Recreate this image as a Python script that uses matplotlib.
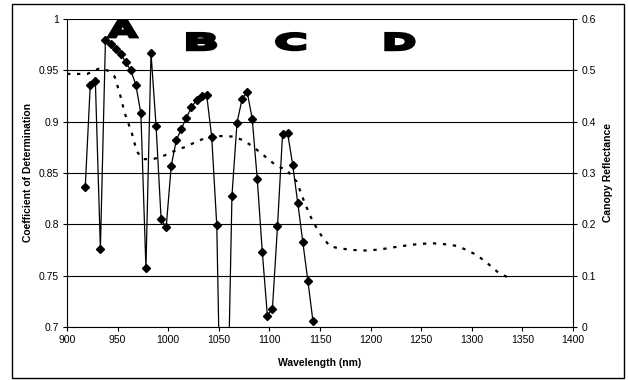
import numpy as np
import matplotlib
matplotlib.use("Agg")
import matplotlib.pyplot as plt
from matplotlib.patches import Rectangle, PathPatch
from matplotlib.textpath import TextPath
from matplotlib.font_manager import FontProperties
from matplotlib.transforms import Affine2D, ScaledTranslation

plt.rcParams['font.family'] = ['Liberation Sans', 'DejaVu Sans']

# Coefficient of determination by wavelength (nm)
r2_wavelength = [918, 923, 928, 933, 938, 943, 948, 953, 958, 963, 968, 973, 978,
                 983, 988, 993, 998, 1003, 1008, 1013, 1018, 1023, 1028, 1033,
                 1038, 1043, 1048, 1053, 1058, 1063, 1068, 1073, 1078, 1083, 1088,
                 1093, 1098, 1103, 1108, 1113, 1118, 1123, 1128, 1133, 1138, 1143]
r2_values = [0.836, 0.936, 0.940, 0.776, 0.980, 0.976, 0.971, 0.966, 0.958, 0.950,
             0.936, 0.908, 0.757, 0.967, 0.896, 0.805, 0.797, 0.857, 0.882, 0.893,
             0.904, 0.914, 0.921, 0.925, 0.926, 0.885, 0.799, 0.54, 0.58, 0.828,
             0.899, 0.922, 0.929, 0.903, 0.844, 0.773, 0.711, 0.718, 0.798, 0.888,
             0.889, 0.858, 0.821, 0.783, 0.745, 0.706]

# Canopy reflectance spectrum
refl_wavelength = [900, 920, 931, 940, 947, 952, 957, 964, 969, 975, 985, 995, 1005,
                   1017, 1028, 1040, 1051, 1064, 1074, 1084, 1094, 1107, 1117, 1127,
                   1135, 1143, 1152, 1160, 1170, 1183, 1196, 1209, 1222, 1236, 1249,
                   1262, 1275, 1285, 1295, 1305, 1315, 1325, 1335]
refl_values = [0.493, 0.493, 0.503, 0.500, 0.488, 0.456, 0.417, 0.378, 0.342, 0.327,
               0.327, 0.333, 0.342, 0.351, 0.361, 0.371, 0.372, 0.371, 0.364, 0.351,
               0.335, 0.314, 0.306, 0.283, 0.241, 0.205, 0.176, 0.157, 0.153, 0.150,
               0.149, 0.151, 0.155, 0.159, 0.162, 0.163, 0.161, 0.158, 0.150, 0.140,
               0.125, 0.108, 0.097]

# Spectral region markers
region_labels = ['A', 'B', 'C', 'D']
region_x = [955, 1033, 1121, 1229]
region_y = [0.9815, 0.969, 0.969, 0.969]

DPI = 100
fig = plt.figure(figsize=(6.28, 3.80), dpi=DPI)
fig.patches.append(Rectangle((12 / 628, 2 / 380), 612 / 628, 374 / 380,
                             transform=fig.transFigure, fill=False,
                             edgecolor='black', linewidth=1.0))

ax = fig.add_axes([67 / 628, 53 / 380, 506 / 628, 308 / 380])
ax2 = ax.twinx()

ax.set_xlim(900, 1400)
ax.set_ylim(0.7, 1.0)
ax2.set_ylim(0, 0.6)

ax.set_yticks(np.arange(0.7, 1.001, 0.05))
ax.set_yticklabels(['0.7', '0.75', '0.8', '0.85', '0.9', '0.95', '1'])
ax.set_xticks(np.arange(900, 1401, 50))
ax2.set_yticks(np.arange(0, 0.61, 0.1))
ax2.set_yticklabels(['0', '0.1', '0.2', '0.3', '0.4', '0.5', '0.6'])

for a in (ax, ax2):
    a.tick_params(labelsize=7.5, length=3, width=0.8, pad=3)
    a.spines['top'].set_visible(False)
ax.spines['right'].set_visible(False)
ax2.spines['left'].set_visible(False)
ax2.spines['bottom'].set_visible(False)

ax.grid(axis='y', color='black', linewidth=0.8)
ax.set_axisbelow(True)

ax2.plot(refl_wavelength, refl_values, color='black', linewidth=1.6,
         linestyle=(0, (1.5, 3)), zorder=2)
ax.plot(r2_wavelength, r2_values, color='black', linewidth=0.9, marker='D',
        markersize=4.5, zorder=3)
ax.set_zorder(ax2.get_zorder() + 1)
ax.patch.set_visible(False)

# Wide, heavy block letters: glyph outlines stretched to a fixed pixel box,
# anchored at the bottom-centre data point, then thickened with an outline
letter_font = FontProperties(family='DejaVu Sans', weight='bold')
letter_w, letter_h = 28.5, 16.5
for lbl, x, y in zip(region_labels, region_x, region_y):
    tp = TextPath((0, 0), lbl, size=1, prop=letter_font)
    bb = tp.get_extents()
    trans = (Affine2D()
             .translate(-(bb.x0 + bb.x1) / 2, -bb.y0)
             .scale(letter_w / bb.width, letter_h / bb.height)
             .translate(0, 1.0)
             + ScaledTranslation(x, y, ax.transData))
    ax.add_patch(PathPatch(tp, transform=trans, facecolor='black',
                           edgecolor='black', linewidth=2.0, joinstyle='miter',
                           zorder=5, clip_on=False))

ax.set_xlabel('Wavelength (nm)', fontsize=7.5, fontweight='bold', labelpad=9)
ax.set_ylabel('Coefficient of Determination', fontsize=7.5, fontweight='bold', labelpad=4)
ax2.set_ylabel('Canopy Reflectance', fontsize=7.5, fontweight='bold', labelpad=5)

fig.savefig('out.png', dpi=DPI)
